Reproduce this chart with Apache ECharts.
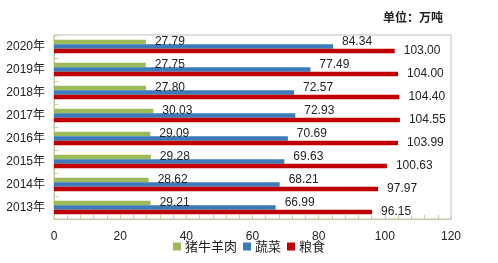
<!DOCTYPE html>
<html><head><meta charset="utf-8">
<script src="https://cdn.jsdelivr.net/npm/echarts@6/dist/echarts.min.js"></script>
<style>html,body{margin:0;padding:0;background:#fff}#c{width:498px;height:263px}</style>
</head><body><div id="c"></div>
<script>
const years = ['2013年','2014年','2015年','2016年','2017年','2018年','2019年','2020年'];
const meat = [29.21,28.62,29.28,29.09,30.03,27.80,27.75,27.79];
const veg = [66.99,68.21,69.63,70.69,72.93,72.57,77.49,84.34];
const grain = [96.15,97.97,100.63,103.99,104.55,104.40,104.00,103.00];
const xTicks = [0,20,40,60,80,100,120];

const font = '"Liberation Sans", "Noto Sans CJK SC", sans-serif';
const chart = echarts.init(document.getElementById('c'));
const lbl = (dy) => ({show:true, position:'right', distance:9, offset:[0,dy], color:'#222', fontSize:12, fontFamily:font, formatter: p => p.value.toFixed(2)});
chart.setOption({
  animation:false,
  title:{text:'单位：万吨', right:50, top:6, textStyle:{fontSize:12, fontWeight:'bold', color:'#222', fontFamily:'"Noto Sans CJK SC", sans-serif'}},
  legend:{bottom:5, left:'center', itemWidth:8, itemHeight:8, itemGap:6, icon:'rect',
    textStyle:{fontSize:13, color:'#222', fontFamily:'"Noto Sans CJK SC", sans-serif', padding:[0,0,0,-1]},
    data:['猪牛羊肉','蔬菜','粮食']},
  grid:{left:54, right:47, top:35, bottom:44, show:true, borderColor:'#c0c0c0', borderWidth:1},
  xAxis:{type:'value', min:0, max:120, interval:20,
    axisLine:{show:true, lineStyle:{color:'#c5cc9f'}},
    axisTick:{show:true, inside:true, length:4, lineStyle:{color:'#c5cc9f'}},
    minorTick:{show:true, splitNumber:5, length:4, lineStyle:{color:'#c5cc9f'}},
    splitLine:{show:false},
    axisLabel:{color:'#222', fontSize:12, fontFamily:font, margin:12, formatter: v => xTicks.includes(v) ? String(v) : ''}},
  yAxis:{type:'category', data:years,
    axisLine:{show:true, lineStyle:{color:'#c5cc9f'}},
    axisTick:{show:true, inside:true, length:4, lineStyle:{color:'#c5cc9f'}},
    axisLabel:{color:'#222', fontSize:12, fontFamily:font, margin:9}},
  series:[
    {name:'猪牛羊肉', type:'bar', data:meat, barWidth:4.5, barGap:'0%', itemStyle:{color:'#9bbb59'}, label:lbl(0)},
    {name:'蔬菜', type:'bar', data:veg, barWidth:4.5, barGap:'0%', itemStyle:{color:'#3c7ab9'}, label:lbl(-5)},
    {name:'粮食', type:'bar', data:grain, barWidth:4.5, barGap:'0%', itemStyle:{color:'#c00000'}, label:lbl(0)}
  ]
});
</script></body></html>
